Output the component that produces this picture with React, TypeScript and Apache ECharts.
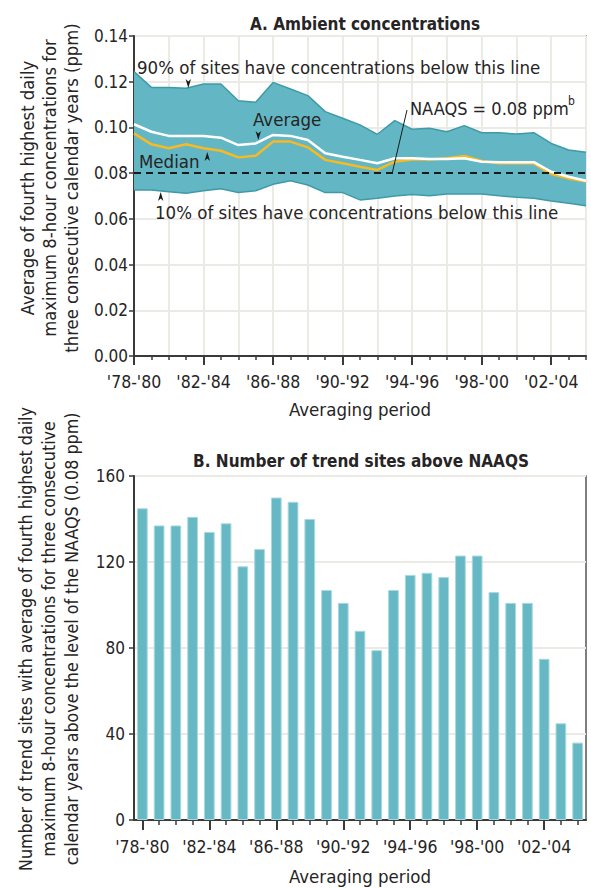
import React, { useEffect, useRef } from "react";
import * as echarts from "echarts";

const periods = [
  "'78-'80", "'79-'81", "'80-'82", "'81-'83", "'82-'84", "'83-'85", "'84-'86", "'85-'87", "'86-'88",
  "'87-'89", "'88-'90", "'89-'91", "'90-'92", "'91-'93", "'92-'94", "'93-'95", "'94-'96", "'95-'97",
  "'96-'98", "'97-'99", "'98-'00", "'99-'01", "'00-'02", "'01-'03", "'02-'04", "'03-'05", "'04-'06",
];

const p90 = [
  0.1244, 0.1175, 0.1175, 0.1171, 0.119, 0.119, 0.1117, 0.111, 0.1197, 0.1168, 0.1139, 0.1069, 0.104,
  0.1011, 0.097, 0.103, 0.0992, 0.0996, 0.0981, 0.1008, 0.0977, 0.0977, 0.0971, 0.0977, 0.093, 0.0901, 0.0891,
];
const p10 = [
  0.0726, 0.0726, 0.0719, 0.0712, 0.0723, 0.0732, 0.0715, 0.0723, 0.0751, 0.0767, 0.0748, 0.0715, 0.0715,
  0.0683, 0.069, 0.07, 0.0707, 0.0701, 0.0709, 0.0709, 0.0709, 0.0701, 0.0694, 0.069, 0.0678, 0.0668, 0.0657,
];
const average = [
  0.1014, 0.0981, 0.0963, 0.0962, 0.0962, 0.0955, 0.0923, 0.093, 0.0967, 0.0963, 0.0945, 0.0887, 0.0872,
  0.0858, 0.0843, 0.0865, 0.0865, 0.0862, 0.0862, 0.0865, 0.085, 0.0848, 0.0848, 0.0848, 0.0806, 0.0784, 0.0767,
];
const median = [
  0.0974, 0.0926, 0.0909, 0.0926, 0.0909, 0.0898, 0.0869, 0.0876, 0.0938, 0.0938, 0.0913, 0.0858, 0.0843,
  0.0828, 0.0814, 0.085, 0.086, 0.086, 0.0865, 0.0875, 0.0853, 0.0843, 0.0843, 0.0843, 0.0796, 0.0777, 0.0763,
];
const naaqs = 0.08;
const sitesAbove = [
  145, 137, 137, 141, 134, 138, 118, 126, 150, 148, 140, 107, 101, 88, 79, 107, 114, 115, 113, 123, 123,
  106, 101, 101, 75, 45, 36,
];

const FONT = "'Liberation Sans Narrow', 'DejaVu Sans Condensed', 'Noto Sans', sans-serif";
const TXT = "#262424";
const GRIDC = "#ebeae4";
const AXC = "#3a3a3a";

export default function App() {
  const ref = useRef<HTMLDivElement>(null);
  useEffect(() => {
    document.body.style.margin = "0";
    if (!ref.current) return;
    const chart = echarts.init(ref.current, undefined, { renderer: "svg" });
    const bandDiff = p90.map((v, i) => +(v - p10[i]).toFixed(5));
    const labelStyle = { color: TXT, fontFamily: FONT, fontSize: 17.5 };
    const annot = (text: string, x: number, y: number, size = 18.5) => ({
      type: "text", x, y, z: 50,
      style: { text, fontFamily: FONT, fontSize: size, fill: TXT, verticalAlign: "middle" },
    });
    const option: any = {
      animation: false,
      backgroundColor: "#ffffff",
      textStyle: { fontFamily: FONT, color: TXT },
      title: [
        {
          text: "A. Ambient concentrations",
          left: 360, top: 10, textAlign: "center",
          textStyle: { fontFamily: FONT, fontWeight: "bold", fontSize: 17, color: TXT },
        },
        {
          text: "B. Number of trend sites above NAAQS",
          left: 356, top: 447, textAlign: "center",
          textStyle: { fontFamily: FONT, fontWeight: "bold", fontSize: 17, color: TXT },
        },
      ],
      grid: [
        { left: 134, top: 36, width: 452, height: 320, show: true, borderColor: "#555", borderWidth: 1.5 },
        { left: 134, top: 476, width: 452, height: 344, show: true, borderColor: "#555", borderWidth: 1.5 },
      ],
      xAxis: [
        {
          gridIndex: 0, type: "category", position: "bottom", data: periods, boundaryGap: false,
          axisLine: { lineStyle: { color: AXC, width: 2 } },
          axisTick: { show: true, interval: 0, length: 4, lineStyle: { color: AXC, width: 1.5 } },
          axisLabel: { ...labelStyle, interval: 3, margin: 17 },
          splitLine: { show: true, interval: 1, lineStyle: { color: GRIDC, width: 2 } },
          name: "Averaging period", nameLocation: "middle", nameGap: 44,
          nameTextStyle: { ...labelStyle, fontSize: 18.5 },
        },
        {
          gridIndex: 0, type: "category", position: "bottom", data: periods, boundaryGap: false,
          axisLine: { show: false },
          axisTick: { show: true, interval: 3, length: 9, lineStyle: { color: AXC, width: 2 } },
          axisLabel: { show: false },
          splitLine: { show: false },
        },
        {
          gridIndex: 1, type: "category", position: "bottom", data: periods, boundaryGap: true,
          axisLine: { lineStyle: { color: AXC, width: 2 } },
          axisTick: { show: true, interval: 0, alignWithLabel: true, length: 5, lineStyle: { color: AXC, width: 1.5 } },
          axisLabel: { ...labelStyle, interval: 3, margin: 18 },
          splitLine: { show: false },
          name: "Averaging period", nameLocation: "middle", nameGap: 47,
          nameTextStyle: { ...labelStyle, fontSize: 18.5 },
        },
        {
          gridIndex: 1, type: "category", position: "bottom", data: periods, boundaryGap: true,
          axisLine: { show: false },
          axisTick: { show: true, interval: 3, alignWithLabel: true, length: 10, lineStyle: { color: AXC, width: 2 } },
          axisLabel: { show: false },
          splitLine: { show: false },
        },
      ],
      yAxis: [
        {
          gridIndex: 0, type: "value", min: 0, max: 0.14, interval: 0.02,
          axisLine: { show: true, lineStyle: { color: AXC, width: 2 } },
          axisTick: { show: true, length: 5, lineStyle: { color: AXC, width: 1.5 } },
          axisLabel: { ...labelStyle, fontSize: 17, margin: 6, formatter: (v: number) => v.toFixed(2) },
          splitLine: { show: true, lineStyle: { color: GRIDC, width: 2 } },
        },
        {
          gridIndex: 1, type: "value", min: 0, max: 160, interval: 40,
          axisLine: { show: true, lineStyle: { color: AXC, width: 2 } },
          axisTick: { show: true, length: 5, lineStyle: { color: AXC, width: 1.5 } },
          axisLabel: { ...labelStyle, fontSize: 17, margin: 9 },
          splitLine: { show: true, lineStyle: { color: GRIDC, width: 2 } },
        },
      ],
      series: [
        {
          name: "10th percentile", type: "line", xAxisIndex: 0, yAxisIndex: 0, stack: "band",
          data: p10, symbol: "none", lineStyle: { color: "#3f9aa8", width: 1.5 }, z: 2,
        },
        {
          name: "90th percentile", type: "line", xAxisIndex: 0, yAxisIndex: 0, stack: "band",
          data: bandDiff, symbol: "none", lineStyle: { color: "#3f9aa8", width: 1.5 },
          areaStyle: { color: "#63b6c3", opacity: 1 }, z: 2,
        },
        {
          name: "Median", type: "line", xAxisIndex: 0, yAxisIndex: 0, data: median, symbol: "none",
          lineStyle: { color: "#f7b924", width: 2.5 }, z: 3,
        },
        {
          name: "Average", type: "line", xAxisIndex: 0, yAxisIndex: 0, data: average, symbol: "none",
          lineStyle: { color: "#ffffff", width: 2.5 }, z: 4,
          markLine: {
            silent: true, symbol: "none", label: { show: false },
            lineStyle: { color: "#1a1a1a", width: 2.2, type: [7, 5] },
            data: [{ yAxis: naaqs }], z: 5,
          },
        },
        {
          name: "Sites above NAAQS", type: "bar", xAxisIndex: 2, yAxisIndex: 1, data: sitesAbove,
          barWidth: "64%", itemStyle: { color: "#67b8c5", borderColor: "#a9d9e0", borderWidth: 1 },
        },
      ],
      graphic: [
        {
          type: "text", x: 49, y: 188, rotation: Math.PI / 2, z: 50,
          style: {
            text: "Average of fourth highest daily\nmaximum 8-hour concentrations for\nthree consecutive calendar years (ppm)",
            fontFamily: FONT, fontSize: 18.3, lineHeight: 22, fill: TXT, align: "center", verticalAlign: "middle",
          },
        },
        {
          type: "text", x: 49, y: 639, rotation: Math.PI / 2, z: 50,
          style: {
            text: "Number of trend sites with average of fourth highest daily\nmaximum 8-hour concentrations for three consecutive\ncalendar years above the level of the NAAQS (0.08 ppm)",
            fontFamily: FONT, fontSize: 17.7, lineHeight: 23, fill: TXT, align: "center", verticalAlign: "middle",
          },
        },
        annot("90% of sites have concentrations below this line", 137, 67),
        annot("10% of sites have concentrations below this line", 155, 212),
        annot("Average", 253, 119),
        annot("Median", 139, 161),
        annot("NAAQS = 0.08 ppm", 410, 108, 18),
        annot("b", 568, 101, 12),
        {
          type: "line", shape: { x1: 407, y1: 110, x2: 392, y2: 174 },
          style: { stroke: "#1a1a1a", lineWidth: 1 }, z: 50,
        },
        { type: "polygon", shape: { points: [[188.3, 88], [185.6, 79], [188.3, 81.5], [191, 79]] }, style: { fill: "#1a1a1a" }, z: 50 },
        { type: "polygon", shape: { points: [[258.3, 140], [255.6, 131], [258.3, 133.5], [261, 131]] }, style: { fill: "#1a1a1a" }, z: 50 },
        { type: "polygon", shape: { points: [[207.3, 152], [204.6, 161], [207.3, 158.5], [210, 161]] }, style: { fill: "#1a1a1a" }, z: 50 },
        { type: "polygon", shape: { points: [[160.7, 192], [158, 201], [160.7, 198.5], [163.4, 201]] }, style: { fill: "#1a1a1a" }, z: 50 },
      ],
    };
    chart.setOption(option);
    return () => chart.dispose();
  }, []);
  return <div ref={ref} style={{ position: "absolute", left: 0, top: 0, width: 591, height: 888 }} />;
}
